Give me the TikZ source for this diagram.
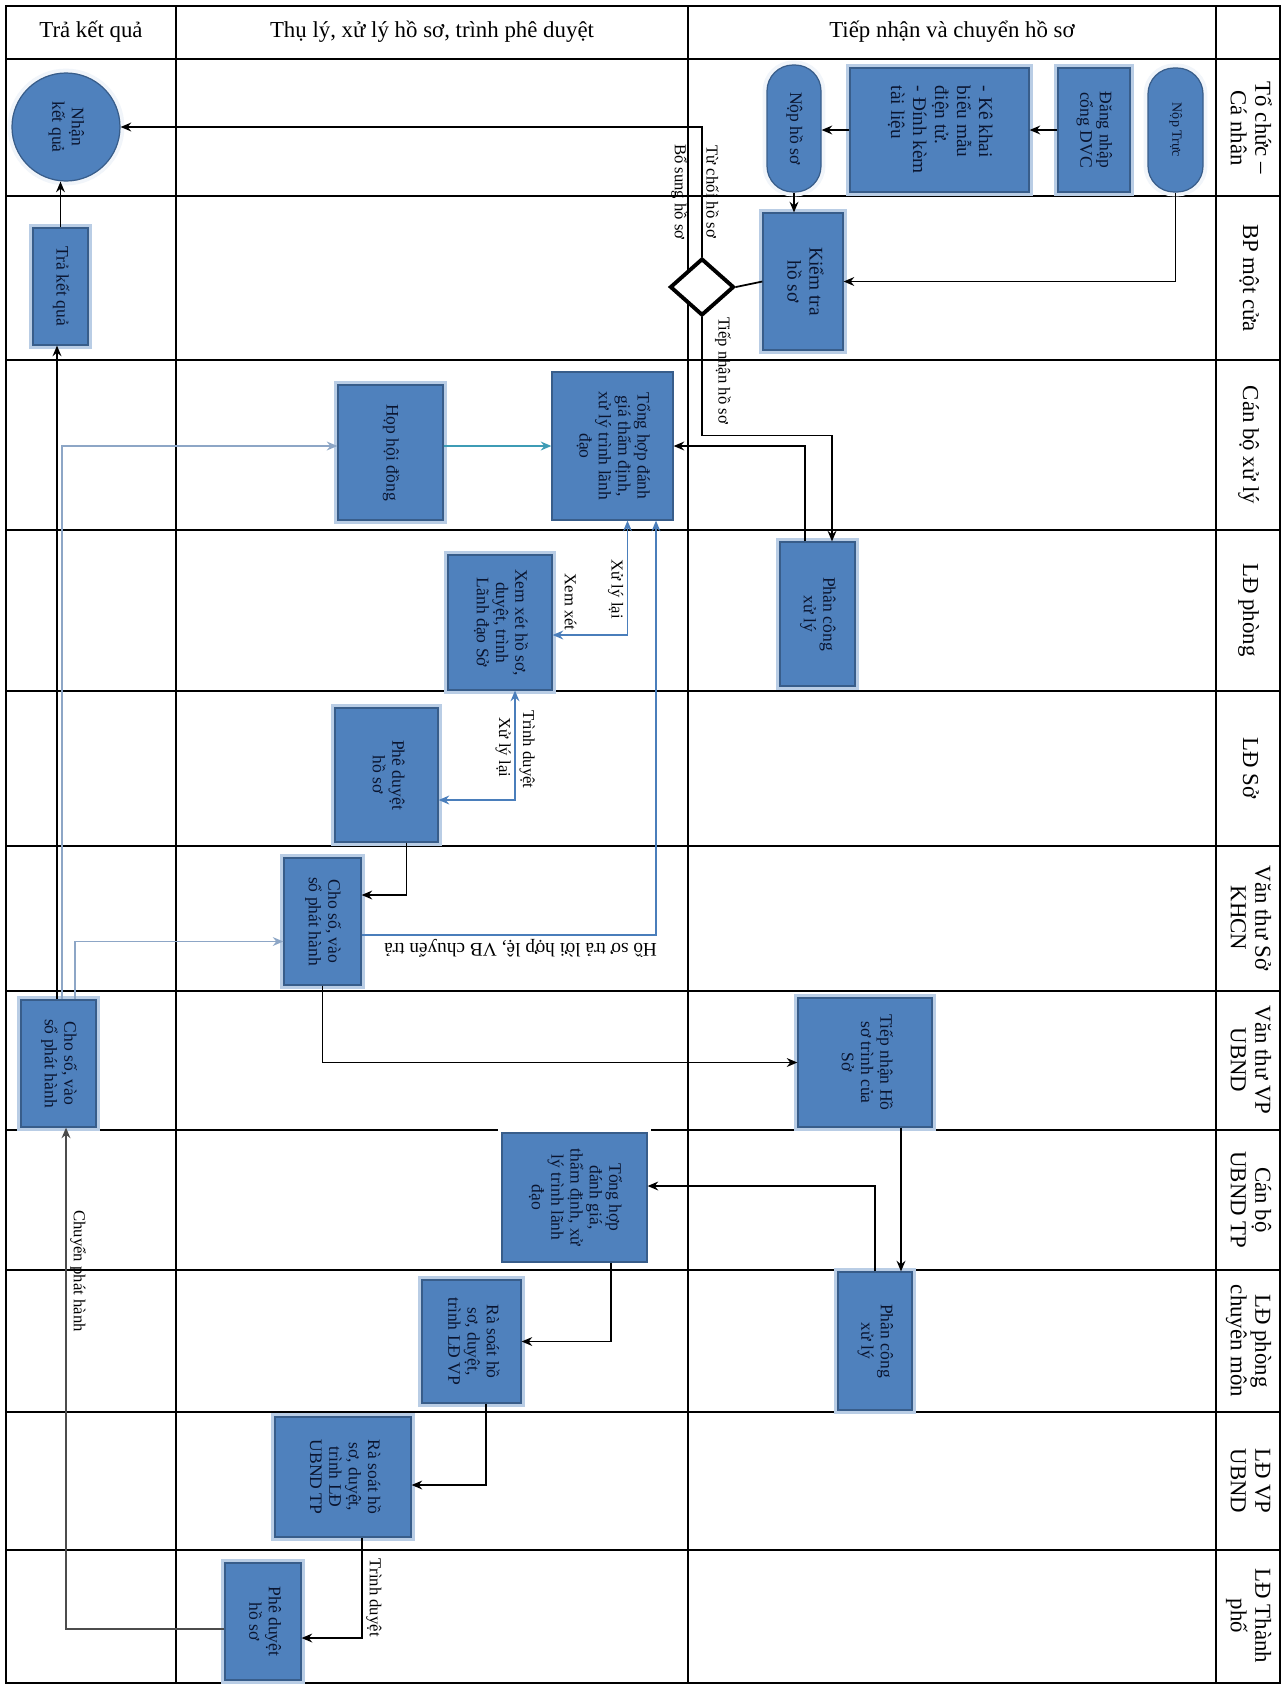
\documentclass[tikz,border=0pt]{standalone}
\usepackage{fontspec}
\setmainfont{Liberation Serif}
\usepackage{graphicx}
\usetikzlibrary{arrows.meta, shapes.geometric}
\definecolor{boxBlue}{HTML}{4F81BD}
\definecolor{boxEdge}{HTML}{385D8A}
\definecolor{boxGlow}{HTML}{B9CDE5}
\definecolor{boxText}{HTML}{0A1530}
\definecolor{flowBlue}{HTML}{4A7EBB}
\definecolor{flowGrey}{HTML}{8DA6C6}
\definecolor{flowTeal}{HTML}{3D9CB5}

% rotated text for the boxes (read top to bottom)
\newcommand{\vtext}[1]{\rotatebox{-90}{\begin{tabular}{@{}c@{}}#1\end{tabular}}}
\newcommand{\vltext}[1]{\rotatebox{-90}{\begin{tabular}{@{}l@{}}#1\end{tabular}}}

\tikzset{
  lane/.style={line width=0.9pt, black},
  procbox/.style={draw=boxEdge, line width=0.7pt, fill=boxBlue, text=boxText, inner sep=1pt,
    font=\fontsize{10}{11}\selectfont, preaction={draw=#1, line width=5pt}},
  procbox/.default=boxGlow,
  wh/.style 2 args={minimum width=#1*0.2mm, minimum height=#2*0.2mm},
  flow/.style={->, line width=1pt, black},
  bflow/.style={->, line width=1pt, flowBlue},
  gflow/.style={->, line width=0.9pt, flowGrey},
  tflow/.style={->, line width=1pt, flowTeal},
  flowlbl/.style={font=\fontsize{9.5}{10.5}\selectfont, inner sep=2pt, text=black},
  vlbl/.style={flowlbl, rotate=-90},
  lanelbl/.style={font=\fontsize{13}{14}\selectfont, inner sep=0pt},
  headlbl/.style={font=\fontsize{13}{15}\selectfont}
}

\begin{document}
\begin{tikzpicture}[x=0.2mm, y=-0.2mm, >={Stealth[length=6pt,width=5pt]}]

  \fill[white] (0,0) rectangle (1287,1686);
  \useasboundingbox (0,0) rectangle (1287,1686);

  % table
  \draw[lane] (6,6) rectangle (1280,1683);
  \foreach \y in {59,196,360,530,691,846,991,1130,1270,1412,1550}
    \draw[lane] (6,\y) -- (1280,\y);
  \foreach \x in {176,688,1216}
    \draw[lane] (\x,6) -- (\x,1683);

  % header
  \node[headlbl] (hTra) at (91,32) {Trả kết quả};
  \node[headlbl] (hThuLy) at (432,32) {Thụ lý, xử lý hồ sơ, trình phê duyệt};
  \node[headlbl] (hTiepNhan) at (952,32) {Tiếp nhận và chuyển hồ sơ};

  % lanes
  \node[lanelbl] (laneToChuc) at (1248,128) {\vtext{Tổ chức –\\Cá nhân}};
  \node[lanelbl] (laneMotCua) at (1248,278) {\vtext{BP một cửa}};
  \node[lanelbl] (laneCanBo) at (1248,445) {\vtext{Cán bộ xử lý}};
  \node[lanelbl] (laneLDPhong) at (1248,610) {\vtext{LĐ phòng}};
  \node[lanelbl] (laneLDSo) at (1248,768) {\vtext{LĐ Sở}};
  \node[lanelbl] (laneVTSo) at (1248,918) {\vtext{Văn thư Sở\\KHCN}};
  \node[lanelbl] (laneVTVP) at (1248,1060) {\vtext{Văn thư VP\\UBND}};
  \node[lanelbl] (laneCBUB) at (1248,1200) {\vtext{Cán bộ\\UBND TP}};
  \node[lanelbl] (laneLDCM) at (1248,1341) {\vtext{LĐ phòng\\chuyên môn}};
  \node[lanelbl] (laneLDVP) at (1248,1481) {\vtext{LĐ VP\\UBND}};
  \node[lanelbl] (laneLDTP) at (1248,1616) {\vtext{LĐ Thành\\phố}};

  % steps
  \node[procbox=white!80!boxGlow, circle, wh={108}{108}] (nhanKQ) at (66,127) {\vtext{Nhận\\kết quả}};
  \node[procbox, wh={55}{117}] (traKQ) at (60.5,286.5) {\vtext{Trả kết quả}};
  \node[procbox=white!80!boxGlow, wh={55}{124}, rounded corners=0.52cm, font=\fontsize{8}{9}\selectfont] (nopTruc) at (1175.5,130) {\vtext{Nộp Trực}};
  \node[procbox, wh={72}{124}] (dangNhap) at (1094,130) {\vtext{Đăng nhập\\cổng DVC}};
  \node[procbox, wh={179}{124}, font=\fontsize{11}{12.5}\selectfont] (keKhai) at (939.5,130) {\vltext{- Kê khai\\biểu mẫu\\điện tử.\\- Đính kèm\\tài liệu}};
  \node[procbox=white!80!boxGlow, wh={54}{127}, rounded corners=0.52cm] (nopHS) at (794,128.5) {\vtext{Nộp hồ sơ}};
  \node[procbox, wh={80}{137}, font=\fontsize{11}{12.5}\selectfont] (kiemTra) at (803,281.5) {\vtext{Kiểm tra\\hồ sơ}};
  \node[diamond, draw, line width=2.2pt, fill=white, wh={64}{57}, inner sep=0pt] (quyetDinh) at (702,287) {};
  \node[procbox=white, wh={121}{148}] (tongHop) at (612.5,446) {\vtext{Tổng hợp đánh\\giá thẩm định,\\xử lý trình lãnh\\đạo}};
  \node[procbox, wh={105}{135}] (hopHD) at (390.5,452.5) {\vtext{Họp hội đồng}};
  \node[procbox, wh={75}{144}] (phanCong) at (817.5,614) {\vtext{Phân công\\xử lý}};
  \node[procbox, wh={104}{135}] (xemXet) at (500,622.5) {\vtext{Xem xét hồ sơ,\\duyệt, trình\\Lãnh đạo Sở}};
  \node[procbox, wh={103}{134}] (pheDuyet) at (386.5,775) {\vtext{Phê duyệt\\hồ sơ}};
  \node[procbox, wh={77}{127}] (choSoSo) at (322.5,921.5) {\vtext{Cho số, vào\\sổ phát hành}};
  \node[procbox, wh={75}{127}] (choSoUB) at (58.5,1063.5) {\vtext{Cho số, vào\\sổ phát hành}};
  \node[procbox, wh={134}{129}] (tiepNhan) at (865,1062.5) {\vtext{Tiếp nhận Hồ\\sơ trình của\\Sở}};
  \node[procbox=white, wh={145}{129}] (tongHopUB) at (574.5,1197.5) {\vtext{Tổng hợp\\đánh giá,\\thẩm định, xử\\lý trình lãnh\\đạo}};
  \node[procbox, wh={74}{138}] (phanCongUB) at (875,1341) {\vtext{Phân công\\xử lý}};
  \node[procbox, wh={99}{123}] (raSoatVP) at (471.5,1341.5) {\vtext{Rà soát hồ\\sơ, duyệt,\\trình LĐ VP}};
  \node[procbox, wh={136}{120}] (raSoatUB) at (343,1477) {\vtext{Rà soát hồ\\sơ, duyệt,\\trình LĐ\\UBND TP}};
  \node[procbox, wh={76}{117}] (pheDuyetTP) at (263,1621.5) {\vtext{Phê duyệt\\hồ sơ}};

  % connectors
  \draw[flow] (nopTruc.south) |- (kiemTra.east);
  \draw[flow] (dangNhap.west) -- (keKhai.east);
  \draw[flow] (keKhai.west) -- (keKhai.west -| nopHS.east);
  \draw[flow] (nopHS.south) -- (nopHS.south |- kiemTra.north);
  \draw[line width=1pt] (kiemTra.west) -- (quyetDinh.east);
  \draw[flow] (quyetDinh.north) |- (nhanKQ.east)
    node[vlbl, pos=0.25, anchor=south] {Từ chối hồ sơ}
    node[vlbl, pos=0.25, anchor=north, inner ysep=8pt] {Bổ sung hồ sơ};
  \draw[flow] (quyetDinh.south) -- node[vlbl, pos=0.45, anchor=south, inner ysep=7pt] {Tiếp nhận hồ sơ} ++(0,118)
    -| ([xshift=0.29cm]phanCong.north);
  \draw[flow] ([xshift=-0.25cm]phanCong.north) |- (tongHop.east);
  \draw[tflow] (hopHD.east |- tongHop.west) -- (tongHop.west);
  \draw[gflow] ([xshift=0.07cm]choSoUB.north) |- ([yshift=0.13cm]hopHD.west);
  \draw[gflow] ([xshift=0.33cm]choSoUB.north) |- ([yshift=-0.4cm]choSoSo.west);
  \draw[bflow, <->] ([xshift=0.3cm]tongHop.south) |- ([yshift=-0.25cm]xemXet.east)
    node[vlbl, pos=0.3, anchor=north] {Xử lý lại}
    node[vlbl, pos=0.88, anchor=east] {Xem xét};
  \draw[bflow, <->] ([xshift=0.3cm]xemXet.south) |- ([yshift=-0.5cm]pheDuyet.east)
    node[vlbl, pos=0.27, anchor=south] {Trình duyệt}
    node[vlbl, pos=0.26, anchor=north] {Xử lý lại};
  \draw[flow] ([xshift=0.4cm]pheDuyet.south) |- ([yshift=0.53cm]choSoSo.east);
  \draw[bflow] ([yshift=-0.27cm]choSoSo.east) -| ([xshift=0.87cm]tongHop.south)
    node[flowlbl, rotate=180, pos=0.27, anchor=south, font=\fontsize{11}{12}\selectfont] {Hồ sơ trả lời hợp lệ, VB chuyển trả};
  \draw[flow] ([xshift=-0.03cm]choSoUB.north) -- ([xshift=-0.03cm]choSoUB.north |- traKQ.south);
  \draw[flow] (traKQ.north) -- (traKQ.north |- nhanKQ.south);
  \draw[flow] (choSoSo.south) |- (tiepNhan.west);
  \draw[flow] ([xshift=0.72cm]tiepNhan.south) -- ([xshift=0.72cm]tiepNhan.south |- phanCongUB.north);
  \draw[flow] (phanCongUB.north) |- ([yshift=0.23cm]tongHopUB.east);
  \draw[flow] ([xshift=0.73cm]tongHopUB.south) |- (raSoatVP.east);
  \draw[flow] ([xshift=0.29cm]raSoatVP.south) |- ([yshift=-0.16cm]raSoatUB.east);
  \draw[flow] ([xshift=0.38cm]raSoatUB.south) |- ([yshift=-0.33cm]pheDuyetTP.east)
    node[vlbl, pos=0.3, anchor=south] {Trình duyệt};
  \draw[flow, black!70] ([yshift=-0.15cm]pheDuyetTP.west) -| ([xshift=0.15cm]choSoUB.south)
    node[vlbl, pos=0.857, anchor=south] {Chuyển phát hành};
\end{tikzpicture}
\end{document}
